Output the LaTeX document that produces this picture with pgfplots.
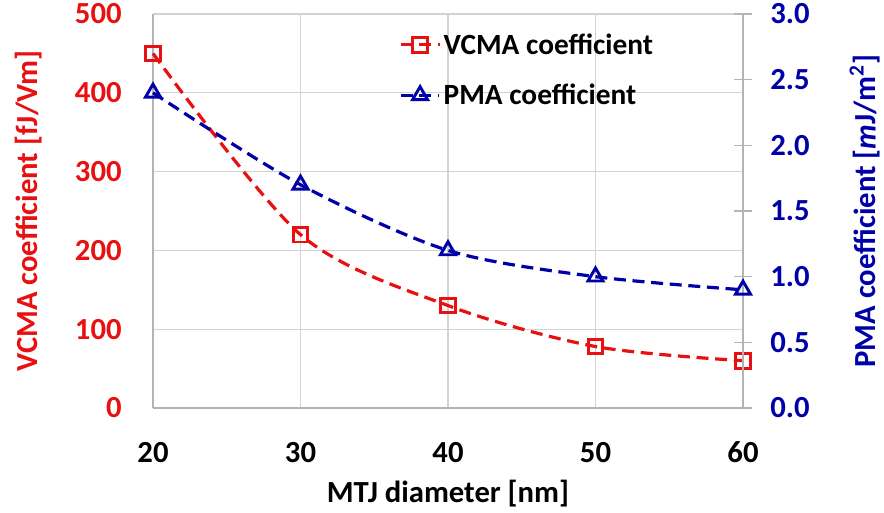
\documentclass[border=0pt]{standalone}
\usepackage{fontspec}
\setmainfont{Carlito}
\usepackage{pgfplots}
\pgfplotsset{compat=1.18}
\definecolor{vred}{RGB}{232,16,16}
\definecolor{pblue}{RGB}{0,0,168}
\definecolor{gridgray}{RGB}{210,210,210}
\definecolor{axgray}{RGB}{180,180,180}
\begin{document}
\begin{tikzpicture}
\pgfplotsset{
  every axis/.append style={
    scale only axis, width=442.5pt, height=295.5pt,
    xmin=20, xmax=60,
    /pgf/number format/assume math mode=true,
    tick label style={font=\fontsize{23}{27}\selectfont\bfseries},
    label style={font=\fontsize{23}{27}\selectfont\bfseries},
  }
}
\begin{axis}[
  at={(0,0)}, anchor=south west,
  axis x line*=bottom, axis y line*=left,
  axis line style={axgray, line width=1pt},
  ymin=0, ymax=500,
  xtick={20,30,40,50,60},
  ytick={0,100,200,300,400,500},
  grid=major, major grid style={gridgray, line width=0.9pt},
  major tick length=0pt,
  xticklabel style={yshift=-22pt},
  yticklabel style={xshift=-20pt, text=vred},
  xlabel={MTJ diameter [nm]},
  xlabel style={yshift=-6pt},
  ylabel={VCMA coefficient [fJ/Vm]},
  ylabel style={text=vred, yshift=18pt},
  legend style={at={(0.41,0.965)}, anchor=north west, draw=none, fill=none,
    font=\fontsize{22}{26}\selectfont\bfseries, row sep=17pt,
    legend cell align=left},
  legend image code/.code={%
    \draw[mark repeat=2, mark phase=2] plot coordinates {(0pt,0pt) (14.5pt,0pt) (29pt,0pt)};},
  clip=false,
]
\addplot[vred, line width=2.4pt, dash pattern=on 9pt off 5pt, smooth, tension=0.5,
  mark=square, mark size=5.5pt, mark options={solid, line width=2.2pt, fill=white}]
  coordinates {(20,450) (30,220) (40,130) (50,78) (60,60)};
\addlegendentry{VCMA coefficient}
\addlegendimage{pblue, line width=2.4pt, dash pattern=on 9pt off 5pt,
  mark=triangle, mark size=6.5pt, mark options={solid, line width=2.2pt, fill=white}}
\addlegendentry{PMA coefficient}
\end{axis}
\begin{axis}[
  at={(0,0)}, anchor=south west,
  axis x line=none, axis y line*=right,
  axis line style={axgray, line width=1pt},
  ymin=0, ymax=3,
  ytick={0,0.5,1,1.5,2,2.5,3},
  yticklabel style={/pgf/number format/.cd, fixed, fixed zerofill, precision=1, /tikz/.cd, xshift=10pt, text=pblue},
  major tick length=14pt, tick align=center,
  every tick/.style={axgray, line width=1pt},
  ylabel={PMA coefficient [\textit{m}J/m\textsuperscript{2}]},
  ylabel style={text=pblue, yshift=-23pt},
  clip=false,
]
\addplot[pblue, line width=2.4pt, dash pattern=on 9pt off 5pt, smooth, tension=0.5,
  mark=triangle, mark size=6.5pt, mark options={solid, line width=2.2pt, fill=white}]
  coordinates {(20,2.4) (30,1.7) (40,1.2) (50,1.0) (60,0.9)};
\end{axis}
\pgfresetboundingbox
\path (-114.75pt,-78pt) rectangle (548.25pt,306pt);
\end{tikzpicture}
\end{document}
